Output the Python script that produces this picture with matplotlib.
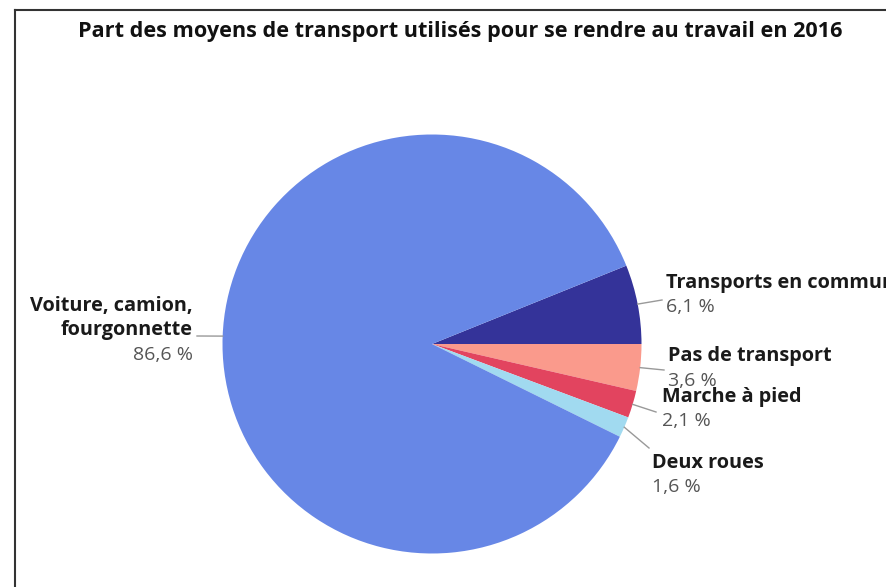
import matplotlib
matplotlib.use("Agg")
import matplotlib.pyplot as plt
import numpy as np

plt.rcParams['font.family'] = ['Open Sans', 'DejaVu Sans']

# data
categories = ["Transports en commun", "Pas de transport", "Marche à pied",
              "Deux roues", "Voiture, camion,\nfourgonnette"]
shares = [6.1, 3.6, 2.1, 1.6, 86.6]
value_labels = ["6,1 %", "3,6 %", "2,1 %", "1,6 %", "86,6 %"]
colors = ["#343399", "#fa9a8c", "#e2445f", "#a1daf0", "#6787e6"]

W, H = 886, 587


def py(y):
    # pixel row (from top) -> data y
    return H - y


fig = plt.figure(figsize=(W / 100, H / 100), dpi=100)
ax = fig.add_axes([0, 0, 1, 1])

cx, cy, r = 432, py(344), 209.5
start = shares[0] / 100 * 360
wedges, _ = ax.pie(shares, colors=colors, startangle=start, counterclock=False,
                   center=(cx, cy), radius=r, frame=True,
                   wedgeprops=dict(linewidth=0))
ax.set_xlim(0, W)
ax.set_ylim(0, H)
ax.set_aspect("equal")
ax.axis("off")

# label layout: (line end x, line end y, text x, first line y, ha)
layout = [
    (662, 300, 666, 283, "left"),
    (664, 370, 668, 356, "left"),
    (656, 412, 662, 397, "left"),
    (649, 448, 652, 463, "left"),
    (197, 336, 193, 306, "right"),
]
line_h = 24.5

for w, name, val, (lx, ly, tx, ty, ha) in zip(wedges, categories, value_labels, layout):
    mid = np.deg2rad((w.theta1 + w.theta2) / 2)
    x0 = cx + r * np.cos(mid)
    y0 = cy + r * np.sin(mid)
    ax.plot([x0, lx], [y0, py(ly)], color="#999999", lw=1.0)
    for i, line in enumerate(name.split("\n")):
        ax.text(tx, py(ty + i * line_h), line, ha=ha, va="center", fontsize=14.3,
                fontweight="bold", color="#1a1a1a")
    nlines = name.count("\n") + 1
    ax.text(tx, py(ty + nlines * line_h), val, ha=ha, va="center",
            fontsize=14, color="#555555")

ax.text(460, py(31), "Part des moyens de transport utilisés pour se rendre au travail en 2016",
        ha="center", va="center", fontsize=15.6, fontweight="bold", color="#111111")

# frame
ax.plot([15, 15], [0, py(10)], color="#333333", lw=1.5, clip_on=False)
ax.plot([15, W], [py(10), py(10)], color="#333333", lw=1.5, clip_on=False)

fig.savefig("out.png", dpi=100)
